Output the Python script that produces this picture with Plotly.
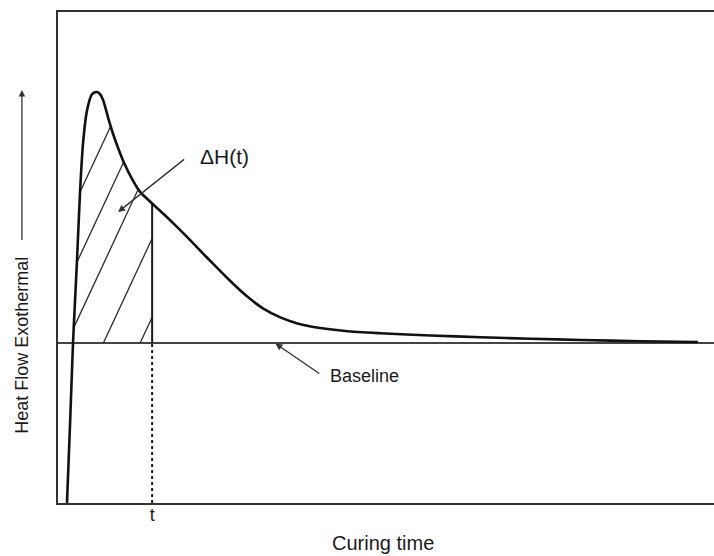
import numpy as np
import plotly.graph_objects as go

# ---- data (arbitrary units) ----
time = [1.37, 1.83, 2.29, 2.60, 2.90, 3.36, 3.82, 4.43, 5.19, 5.95, 6.41, 6.87, 7.33,
        7.79, 8.40, 9.16, 10.08, 11.30, 12.52, 14.35, 16.34, 18.17, 20.15, 21.68, 23.66,
        26.26, 28.85, 31.30, 33.89, 36.49, 38.93, 43.82, 49.16, 56.79, 64.43, 72.06,
        79.69, 88.85, 97.56]
heat_flow = [-0.637, -0.327, 0.0, 0.171, 0.331, 0.602, 0.797, 0.928, 0.992, 1.0, 0.992,
             0.968, 0.928, 0.884, 0.833, 0.777, 0.717, 0.653, 0.602, 0.556, 0.508, 0.462,
             0.410, 0.368, 0.315, 0.247, 0.185, 0.137, 0.102, 0.078, 0.064, 0.048, 0.039,
             0.030, 0.023, 0.017, 0.012, 0.007, 0.004]
t_mark = 14.35
tick_labels = ["t"]
hatch_intercepts = [-7.36, -2.85, 1.31, 6.92, 12.52]
HATCH_SLOPE = 0.0561

X_RANGE = [0, 100]
Y_RANGE = [-0.6375, 1.319]

INK = "#1a1a1a"
FONT = "Liberation Sans, Arial, sans-serif"

fig = go.Figure()

# hatch segments inside the area under the curve, left of t
cx = np.array(time)
cy = np.array(heat_flow)
hx, hy = [], []
for x0 in hatch_intercepts:
    xs = np.linspace(x0, t_mark, 4000)
    ys = HATCH_SLOPE * (xs - x0)
    ok = (ys >= 0) & (ys <= np.interp(xs, cx, cy)) & (xs >= cx[0])
    if ok.any():
        idx = np.where(ok)[0]
        hx += [xs[idx[0]], xs[idx[-1]], None]
        hy += [ys[idx[0]], ys[idx[-1]], None]
fig.add_trace(go.Scatter(x=hx, y=hy, mode="lines",
                         line=dict(color="#2a2a2a", width=1.3), hoverinfo="skip"))

# vertical solid line at t (baseline to curve)
fig.add_trace(go.Scatter(x=[t_mark, t_mark], y=[0, float(np.interp(t_mark, cx, cy))],
                         mode="lines", line=dict(color=INK, width=2), hoverinfo="skip"))
# dotted line at t (bottom to baseline)
fig.add_trace(go.Scatter(x=[t_mark, t_mark], y=[Y_RANGE[0], 0],
                         mode="lines", line=dict(color=INK, width=2, dash="dot"),
                         hoverinfo="skip"))

# main curve
fig.add_trace(go.Scatter(x=time, y=heat_flow, mode="lines",
                         line=dict(color="#111111", width=2.6, shape="spline", smoothing=0.8),
                         hoverinfo="skip"))

annotations = [
    # ΔH(t) label and arrow
    dict(x=21.37, y=0.745, xref="x", yref="y", text="ΔH(t)", showarrow=False,
         xanchor="left", yanchor="middle", font=dict(size=21, color=INK, family=FONT)),
    dict(x=9.16, y=0.522, xref="x", yref="y", text=" ", showarrow=True,
         ax=69, ay=-55, arrowhead=2, arrowsize=1, arrowwidth=1.4, arrowcolor="#333"),
    # Baseline label and arrow
    dict(x=41.2, y=-0.131, xref="x", yref="y", text="Baseline", showarrow=False,
         xanchor="left", yanchor="middle", font=dict(size=18, color=INK, family=FONT)),
    dict(x=33.13, y=-0.002, xref="x", yref="y", text=" ", showarrow=True,
         ax=47, ay=32, arrowhead=2, arrowsize=1, arrowwidth=1.4, arrowcolor="#333"),
    # y title and arrow
    dict(x=-0.055, y=0.322, xref="paper", yref="paper", text="Heat Flow Exothermal",
         textangle=-90, showarrow=False, xanchor="center", yanchor="middle",
         font=dict(size=18, color=INK, family=FONT)),
    dict(x=-0.055, y=0.841, xref="paper", yref="paper", text=" ", showarrow=True,
         ax=0, ay=160, arrowhead=2, arrowsize=1, arrowwidth=1.3, arrowcolor="#333"),
    # x title
    dict(x=0.4947, y=-0.0815, xref="paper", yref="paper", text="Curing time",
         showarrow=False, xanchor="center", yanchor="middle",
         font=dict(size=20, color=INK, family=FONT)),
]

fig.update_layout(
    width=714, height=556,
    margin=dict(l=58, r=0, t=12, b=53),
    paper_bgcolor="white", plot_bgcolor="white",
    showlegend=False,
    annotations=annotations,
    xaxis=dict(range=X_RANGE, showgrid=False, zeroline=False,
               showline=True, mirror=True, linecolor="#333", linewidth=2,
               tickvals=[t_mark], ticktext=tick_labels, ticks="",
               ticklabelstandoff=-6,
               tickfont=dict(size=18, color=INK, family=FONT)),
    yaxis=dict(range=Y_RANGE, showgrid=False, zeroline=True, zerolinecolor="#444",
               zerolinewidth=1.6, showline=True, mirror=False, linecolor="#333",
               linewidth=2, showticklabels=False, ticks=""),
)

fig.write_html("out.html")
